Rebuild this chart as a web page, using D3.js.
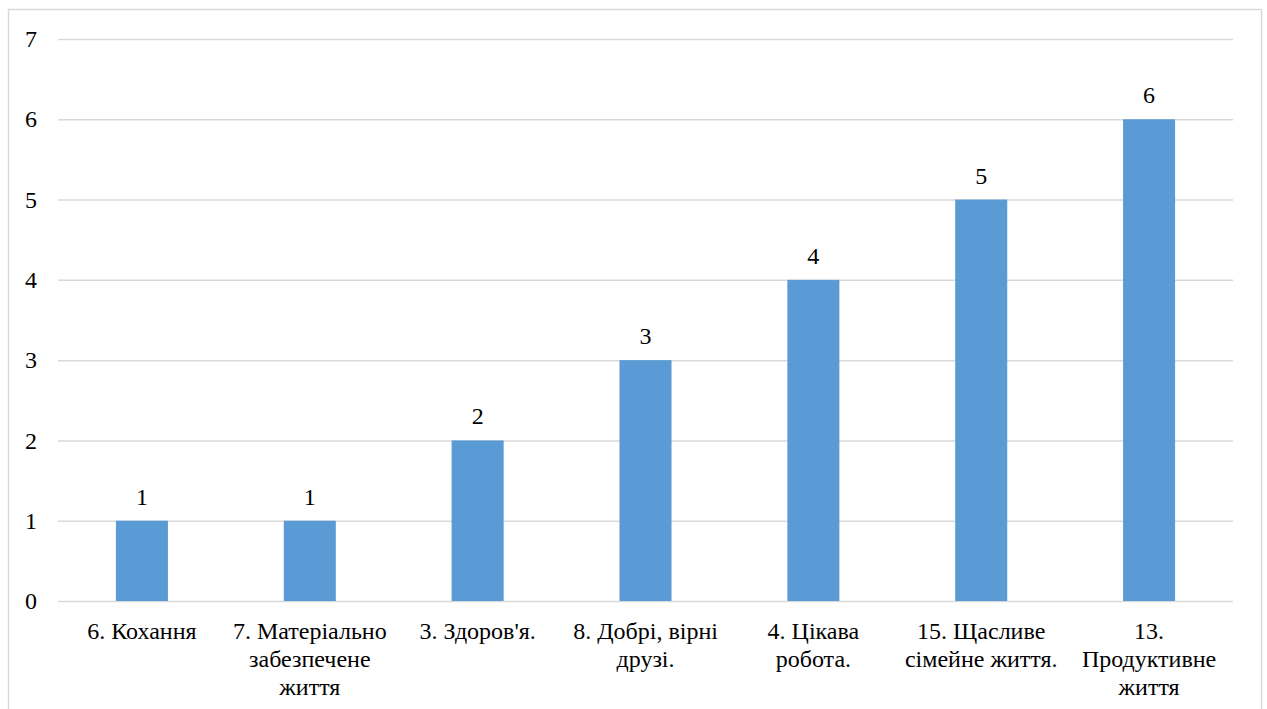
<!DOCTYPE html>
<html>
<head>
<meta charset="utf-8">
<script src="https://cdn.jsdelivr.net/npm/d3@7"></script>
<style>
  body { margin: 0; background: #fff; }
  svg { display: block; }
  svg text { font-family: 'Liberation Serif', serif; }
</style>
</head>
<body>
<div id="chart"></div>
<script>
// Chart data
const categories = ['6. Кохання', '7. Матеріально забезпечене життя', "3. Здоров'я.",
  '8. Добрі, вірні друзі.', '4. Цікава робота.', '15. Щасливе сімейне життя.', '13. Продуктивне життя'];
// wrapped the way the original shows them
const categoryLines = [
  ['6. Кохання'],
  ['7. Матеріально', 'забезпечене', 'життя'],
  ["3. Здоров'я."],
  ['8. Добрі, вірні', 'друзі.'],
  ['4. Цікава', 'робота.'],
  ['15. Щасливе', 'сімейне життя.'],
  ['13.', 'Продуктивне', 'життя']
];
const values = [1, 1, 2, 3, 4, 5, 6];
const yTicks = [0, 1, 2, 3, 4, 5, 6, 7];

const width = 1267, height = 709;
const margin = {top: 39, right: 34, bottom: 108, left: 58};
const innerW = width - margin.left - margin.right;
const innerH = height - margin.top - margin.bottom;
const fontSize = 24;

const svg = d3.select('#chart').append('svg')
    .attr('width', width)
    .attr('height', height);

// outer chart border
svg.append('rect')
    .attr('x', 8.5).attr('y', 9.5)
    .attr('width', 1253).attr('height', 720)
    .attr('fill', 'none')
    .attr('stroke', '#d9d9d9')
    .attr('stroke-width', 1.5);

const chart = svg.append('g')
    .attr('transform', `translate(${margin.left},${margin.top})`);

const xScale = d3.scaleBand()
    .domain(categories)
    .range([0, innerW])
    .paddingInner(0.69)
    .paddingOuter(0.345);

const yScale = d3.scaleLinear()
    .domain([0, 7])
    .range([innerH, 0]);

// gridlines
chart.append('g')
    .attr('class', 'grid')
    .call(d3.axisLeft(yScale).tickValues(yTicks).tickSize(-innerW).tickFormat(''))
    .call(g => g.select('.domain').remove())
    .call(g => g.selectAll('line').attr('stroke', '#d9d9d9').attr('stroke-width', 1.5));

// y axis labels
chart.append('g')
    .attr('class', 'axis y-axis')
    .attr('transform', 'translate(-27,0)')
    .call(d3.axisLeft(yScale).tickValues(yTicks).tickSize(0).tickPadding(0).tickFormat(d3.format('d')))
    .call(g => g.select('.domain').remove())
    .attr('font-family', 'Liberation Serif')
    .attr('font-size', fontSize)
    .call(g => g.selectAll('text')
        .attr('text-anchor', 'middle')
        .attr('fill', '#000'));

// bars
chart.selectAll('.bar')
    .data(values)
    .join('rect')
    .attr('class', 'bar')
    .attr('x', (d, i) => xScale(categories[i]))
    .attr('y', d => yScale(d))
    .attr('width', xScale.bandwidth())
    .attr('height', d => innerH - yScale(d))
    .attr('fill', '#5b9bd5');

// value labels
chart.selectAll('.value')
    .data(values)
    .join('text')
    .attr('class', 'value')
    .attr('x', (d, i) => xScale(categories[i]) + xScale.bandwidth() / 2)
    .attr('y', d => yScale(d) - 16)
    .attr('text-anchor', 'middle')
    .attr('font-size', fontSize)
    .attr('fill', '#000')
    .text(d => d);

// x axis labels
const xAxisG = chart.append('g')
    .attr('class', 'axis x-axis')
    .attr('transform', `translate(0,${innerH})`)
    .call(d3.axisBottom(xScale).tickSize(0).tickFormat(''))
    .call(g => g.select('.domain').remove())
    .attr('font-family', 'Liberation Serif')
    .attr('font-size', fontSize);

xAxisG.selectAll('.tick')
    .append('text')
    .attr('text-anchor', 'middle')
    .attr('fill', '#000')
    .each(function(d, i) {
      d3.select(this).selectAll('tspan')
          .data(categoryLines[i])
          .join('tspan')
          .attr('x', 0)
          .attr('y', (l, j) => 38 + j * 28)
          .text(l => l);
    });
</script>
</body>
</html>
